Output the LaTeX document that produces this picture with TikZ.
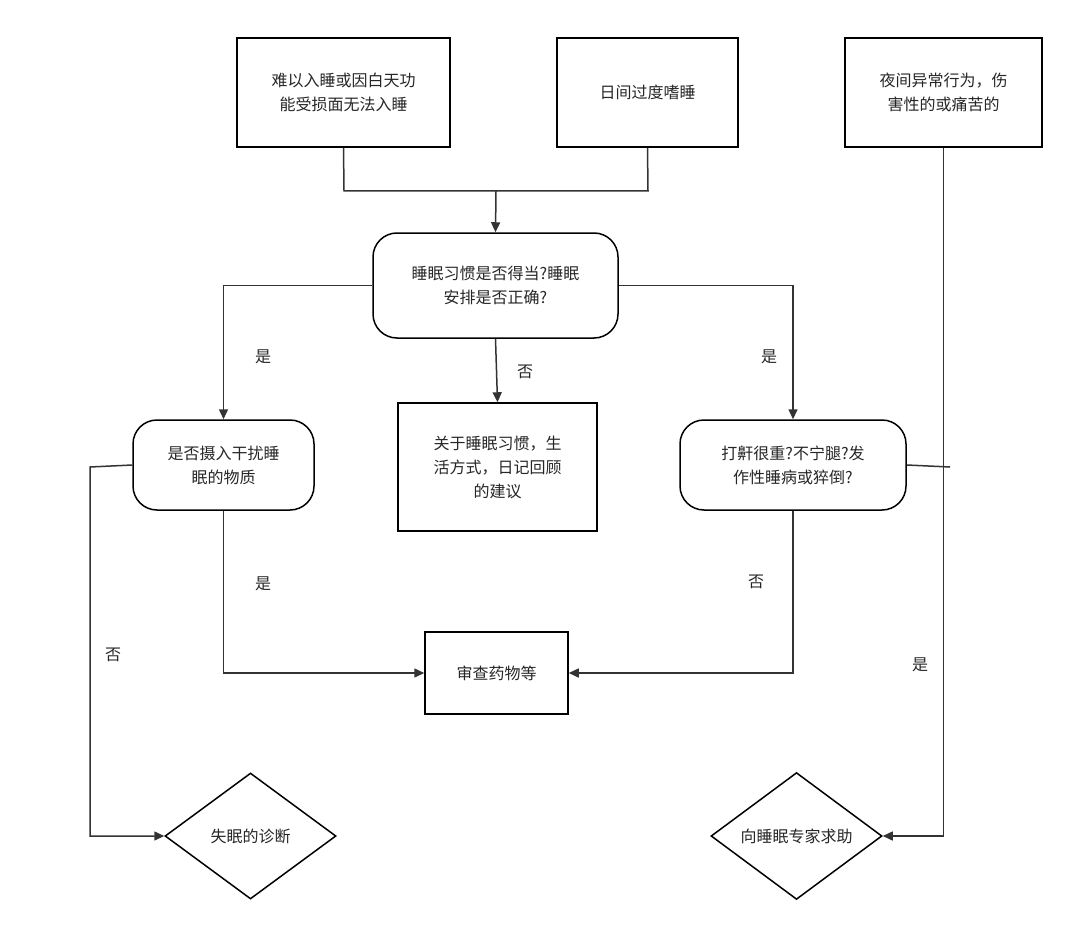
\documentclass[tikz,border=0pt]{standalone}
\usepackage{fontspec}
\setmainfont{Noto Sans CJK SC}
\usetikzlibrary{shapes.geometric,arrows.meta}
\begin{document}
\begin{tikzpicture}[x=0.5pt,y=-0.5pt,
  every node/.style={font=\fontsize{8}{12}\selectfont,align=center,text=black!85},
  box/.style={draw,line width=0.75pt,inner sep=0pt},
  rbox/.style={draw,line width=0.75pt,inner sep=0pt,rounded corners=12pt},
  dia/.style={draw,line width=0.75pt,diamond,inner sep=0pt,minimum width=85.5pt,minimum height=63pt},
  con/.style={line width=0.75pt,draw=black!80},
  arr/.style={con,-{Triangle[length=5pt,width=4.5pt]}},
  lab/.style={font=\fontsize{8}{10}\selectfont}]
\useasboundingbox (0,0) rectangle (1080,941);
\node[box,minimum width=106.5pt,minimum height=54.5pt] (b1) at (343.5,92.5) {难以入睡或因白天功\\能受损面无法入睡};
\node[box,minimum width=90.5pt,minimum height=54.5pt] (b2) at (647.5,92.5) {日间过度嗜睡};
\node[box,minimum width=98.5pt,minimum height=54.5pt] (b3) at (943.5,92.5) {夜间异常行为，伤\\害性的或痛苦的};
\node[rbox,minimum width=122.5pt,minimum height=52.5pt] (d1) at (495.5,285.5) {睡眠习惯是否得当?睡眠\\安排是否正确?};
\node[rbox,minimum width=90.5pt,minimum height=45pt] (d2) at (223.5,465) {是否摄入干扰睡\\眠的物质};
\node[box,minimum width=99.5pt,minimum height=64pt] (b4) at (497.5,467) {关于睡眠习惯，生\\活方式，日记回顾\\的建议};
\node[rbox,minimum width=113pt,minimum height=45pt] (d3) at (793,465) {打鼾很重?不宁腿?发\\作性睡病或猝倒?};
\node[box,minimum width=71.5pt,minimum height=41pt] (b5) at (496.5,673) {审查药物等};
\node[dia] (x1) at (250.5,836) {失眠的诊断};
\node[dia] (x2) at (796.5,836) {向睡眠专家求助};
\coordinate (j) at (496,191);
\draw[con] (b1.south) -- (344,191) -- (648,191) -- (b2.south);
\draw[arr] (j) -- (d1.north);
\draw[arr] (d1.west) -| (d2.north);
\draw[arr] (d1.south) -- (b4.north);
\draw[arr] (d1.east) -| (d3.north);
\draw[arr] (d2.south) |- (b5.west);
\draw[arr] (d3.south) |- (b5.east);
\draw[arr] (d2.west) -- (90,467) |- (x1.west);
\draw[arr] (b3.south) |- (x2.east);
\draw[con] (d3.east) -- (950,467);
\node[lab] at (263,357) {是};
\node[lab] at (525,372) {否};
\node[lab] at (769,357) {是};
\node[lab] at (263,584) {是};
\node[lab] at (756,582) {否};
\node[lab] at (113,655) {否};
\node[lab] at (920,665) {是};
\end{tikzpicture}
\end{document}
